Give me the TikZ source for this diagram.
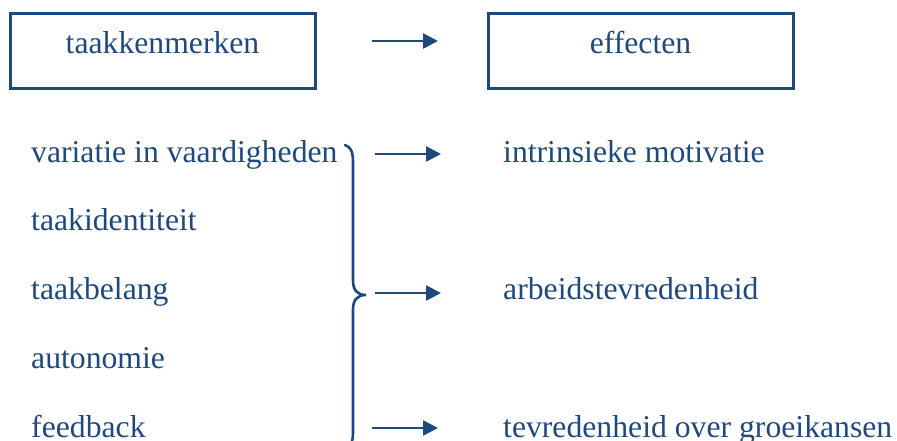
\documentclass[tikz,border=0pt]{standalone}
\usepackage{fontspec}
\setmainfont{Liberation Serif}
\usetikzlibrary{arrows.meta}
\definecolor{dblue}{RGB}{31,73,125}
\tikzset{
  lbl/.style={anchor=base west, inner sep=0pt, text=dblue, font=\fontsize{31.7}{38}\selectfont},
  hdr/.style={draw=dblue, line width=3pt, minimum width=305pt, minimum height=75pt, inner sep=0pt},
  hdrtext/.style={anchor=base, inner sep=0pt, text=dblue, font=\fontsize{31.7}{38}\selectfont},
  conn/.style={draw=dblue, line width=2.6pt, -{Triangle[length=15pt,width=15pt]}},
  bracepath/.style={draw=dblue, line width=2.6pt, line cap=round}
}
\begin{document}
\begin{tikzpicture}[x=1pt,y=-1pt]
\useasboundingbox (0,0) rectangle (897,441);
\begin{scope}
\clip (0,0) rectangle (897,441);
% header boxes
\node[hdr] (b1) at (162.5,51.5) {};
\node[hdrtext] (t1) at (162.5,54) {taakkenmerken};
\node[hdr] (b2) at (640.5,51.5) {};
\node[hdrtext] (t2) at (640.5,54) {effecten};
\coordinate (a0s) at (372,41);
\coordinate (a0e) at (438,41);
\draw[conn] (a0s) -- (a0e);
% left items
\node[lbl] (l1) at (31,162) {variatie in vaardigheden};
\node[lbl] (l2) at (31,230) {taakidentiteit};
\node[lbl] (l3) at (31,299) {taakbelang};
\node[lbl] (l4) at (31,368) {autonomie};
\node[lbl] (l5) at (31,437) {feedback};
% right items
\node[lbl] (r1) at (503,162) {intrinsieke motivatie};
\node[lbl] (r2) at (503,299) {arbeidstevredenheid};
\node[lbl] (r3) at (503,437) {tevredenheid over groeikansen};
% brace
\coordinate (bt) at (345,145);
\coordinate (bm) at (366,295);
\coordinate (bb) at (345,448);
\draw[bracepath] (bt) .. controls (351,147) and (353,152) .. (353,162)
  -- (353,280) .. controls (353,290) and (357,295) .. (bm)
  .. controls (357,295) and (353,300) .. (353,310)
  -- (353,432) .. controls (353,442) and (351,446) .. (bb);
% arrows
\coordinate (a1s) at (375,154);
\coordinate (a1e) at (441,154);
\coordinate (a2s) at (375,293);
\coordinate (a2e) at (441,293);
\coordinate (a3s) at (372,428);
\coordinate (a3e) at (438,428);
\draw[conn] (a1s) -- (a1e);
\draw[conn] (a2s) -- (a2e);
\draw[conn] (a3s) -- (a3e);
\end{scope}
\end{tikzpicture}
\end{document}
